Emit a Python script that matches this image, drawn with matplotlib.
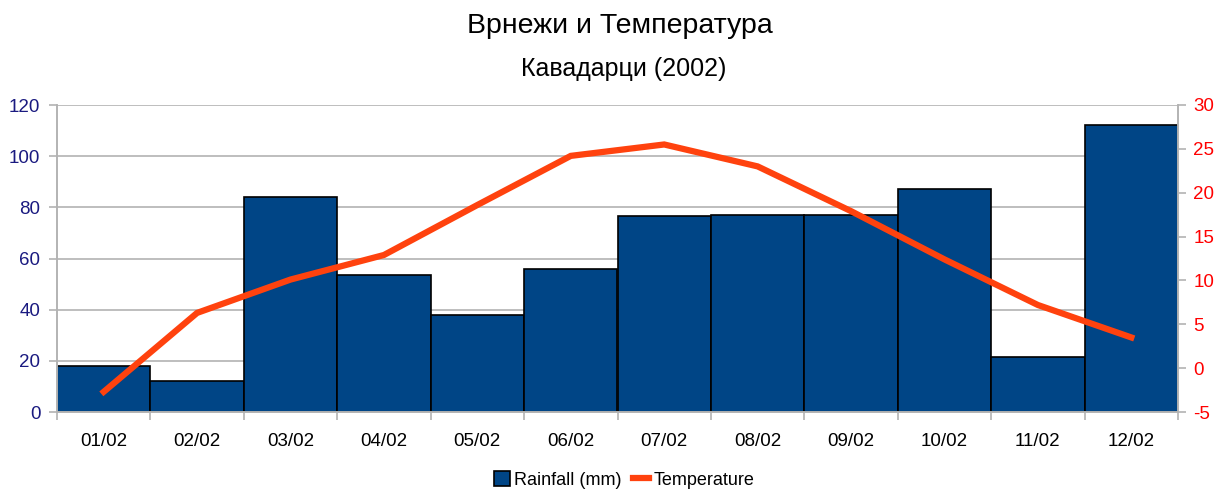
import numpy as np
import matplotlib.pyplot as plt

plt.rcParams['font.family'] = ['Liberation Sans', 'DejaVu Sans']
plt.rcParams['axes.unicode_minus'] = False

months = ['01/02', '02/02', '03/02', '04/02', '05/02', '06/02',
          '07/02', '08/02', '09/02', '10/02', '11/02', '12/02']
rainfall = [18, 12, 84, 53.5, 38, 56, 76.5, 77, 77, 87.3, 21.6, 112]
temperature = [-2.7, 6.3, 10.1, 12.9, 18.6, 24.2, 25.5, 23.0, 17.9, 12.4, 7.2, 3.5]

bar_color = '#004586'
line_color = '#ff420e'
grid_color = '#b3b3b3'

fig = plt.figure(figsize=(12.25, 4.9), dpi=100)
ax = fig.add_axes([57 / 1225, 1 - 412 / 490, 1121 / 1225, 307 / 490])
ax2 = ax.twinx()

x = np.arange(len(months))
bars = ax.bar(x, rainfall, width=1.0, color=bar_color, edgecolor='black',
              linewidth=1.2, label='Rainfall (mm)', zorder=2)
line, = ax2.plot(x, temperature, color=line_color, lw=4.5, label='Temperature',
                 solid_joinstyle='miter', zorder=3)

ax.set_xlim(-0.5, len(months) - 0.5)
ax.set_ylim(0, 120)
ax.set_yticks(np.arange(0, 121, 20))
ax2.set_ylim(-5, 30)
ax2.set_yticks(np.arange(-5, 31, 5))

# category labels in the middle, tick marks between categories
ax.set_xticks(x)
ax.set_xticklabels(months)
ax.set_xticks(np.arange(-0.5, len(months), 1.0), minor=True)
ax.tick_params(axis='x', which='major', length=0, pad=15, labelsize=13.5)
ax.tick_params(axis='x', which='minor', length=6, color=grid_color, width=1.2)

ax.tick_params(axis='y', length=6, color=grid_color, width=1.2,
               labelcolor='#1a1a80', labelsize=13.5, pad=6)
ax2.tick_params(axis='y', length=6, color=grid_color, width=1.2,
                labelcolor='#ff0000', labelsize=13.5, pad=5)

ax.yaxis.grid(True, color=grid_color, lw=1.2, zorder=0)
ax.set_axisbelow(True)

for a in (ax, ax2):
    a.spines['top'].set_visible(False)
    for s in ('left', 'right', 'bottom'):
        a.spines[s].set_color(grid_color)
        a.spines[s].set_linewidth(1.2)

ax.set_zorder(1)
ax.patch.set_visible(False)
ax2.set_zorder(2)

fig.text(620 / 1225, 1 - 26 / 490, 'Врнежи и Температура', ha='center',
         va='center', fontsize=20.5)
fig.text(624 / 1225, 1 - 69 / 490, 'Кавадарци (2002)', ha='center',
         va='center', fontsize=18)

fig.legend([bars, line], ['Rainfall (mm)', 'Temperature'], loc='center',
           bbox_to_anchor=(624 / 1225, 1 - 480 / 490), ncol=2, frameon=False,
           fontsize=13, handlelength=0.9, handleheight=0.9, handletextpad=0.25,
           columnspacing=0.6)

fig.savefig('out.png', dpi=100)
